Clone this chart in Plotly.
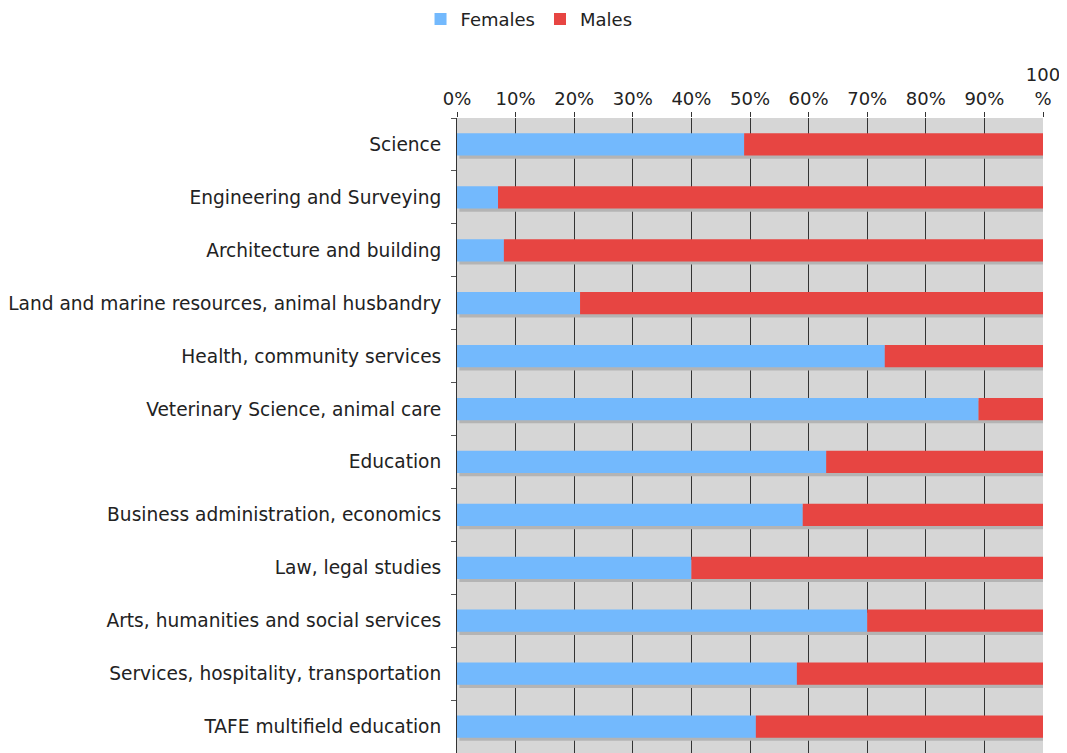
import plotly.graph_objects as go

categories = [
    "Science",
    "Engineering and Surveying",
    "Architecture and building",
    "Land and marine resources, animal husbandry",
    "Health, community services",
    "Veterinary Science, animal care",
    "Education",
    "Business administration, economics",
    "Law, legal studies",
    "Arts, humanities and social services",
    "Services, hospitality, transportation",
    "TAFE multifield education",
]
females = [49, 7, 8, 21, 73, 89, 63, 59, 40, 70, 58, 51]
males = [100 - f for f in females]

tick_vals = [0, 10, 20, 30, 40, 50, 60, 70, 80, 90, 100]
tick_text = ["0%", "10%", "20%", "30%", "40%", "50%", "60%", "70%", "80%", "90%", "100<br>%"]

fig = go.Figure()

# drop shadow under each bar
fig.add_trace(go.Bar(
    y=categories, x=[f + m for f, m in zip(females, males)], base=0.4,
    orientation="h", width=0.42, offset=-0.15,
    marker=dict(color="#b4b4b4", line=dict(width=0)),
    showlegend=False, hoverinfo="skip",
))
fig.add_trace(go.Bar(
    y=categories, x=females, base=0, name="Females",
    orientation="h", width=0.42, offset=-0.21,
    marker=dict(color="#73b9fd", line=dict(width=0)),
))
fig.add_trace(go.Bar(
    y=categories, x=males, base=females, name="Males",
    orientation="h", width=0.42, offset=-0.21,
    marker=dict(color="#e74542", line=dict(width=0)),
))

# page body has an 8px margin, so the figure is sized and offset for it
fig.update_layout(
    width=1059, height=745,
    barmode="overlay",
    paper_bgcolor="white",
    plot_bgcolor="#d6d6d6",
    font=dict(family="DejaVu Sans", size=18, color="#222222"),
    margin=dict(l=449, r=24, t=110, b=0),
    legend=dict(
        orientation="h", xref="container", yref="container",
        x=0.492, xanchor="center", y=0.985, yanchor="middle",
        font=dict(size=18), itemwidth=30, traceorder="normal",
    ),
    xaxis=dict(
        side="top", range=[0, 100], tickvals=tick_vals, ticktext=tick_text,
        showgrid=True, gridcolor="#333333", gridwidth=1,
        ticks="outside", ticklen=5, tickcolor="#333333",
        showline=False, zeroline=False, fixedrange=True,
    ),
    yaxis=dict(
        categoryorder="array", categoryarray=categories, autorange="reversed",
        tickson="boundaries", ticks="outside", ticklen=5, tickcolor="#555555",
        showgrid=False, showline=True, linecolor="#333333", linewidth=1,
        zeroline=False, ticklabelstandoff=11, tickfont=dict(size=18.6),
    ),
)

fig.write_html("out.html")
